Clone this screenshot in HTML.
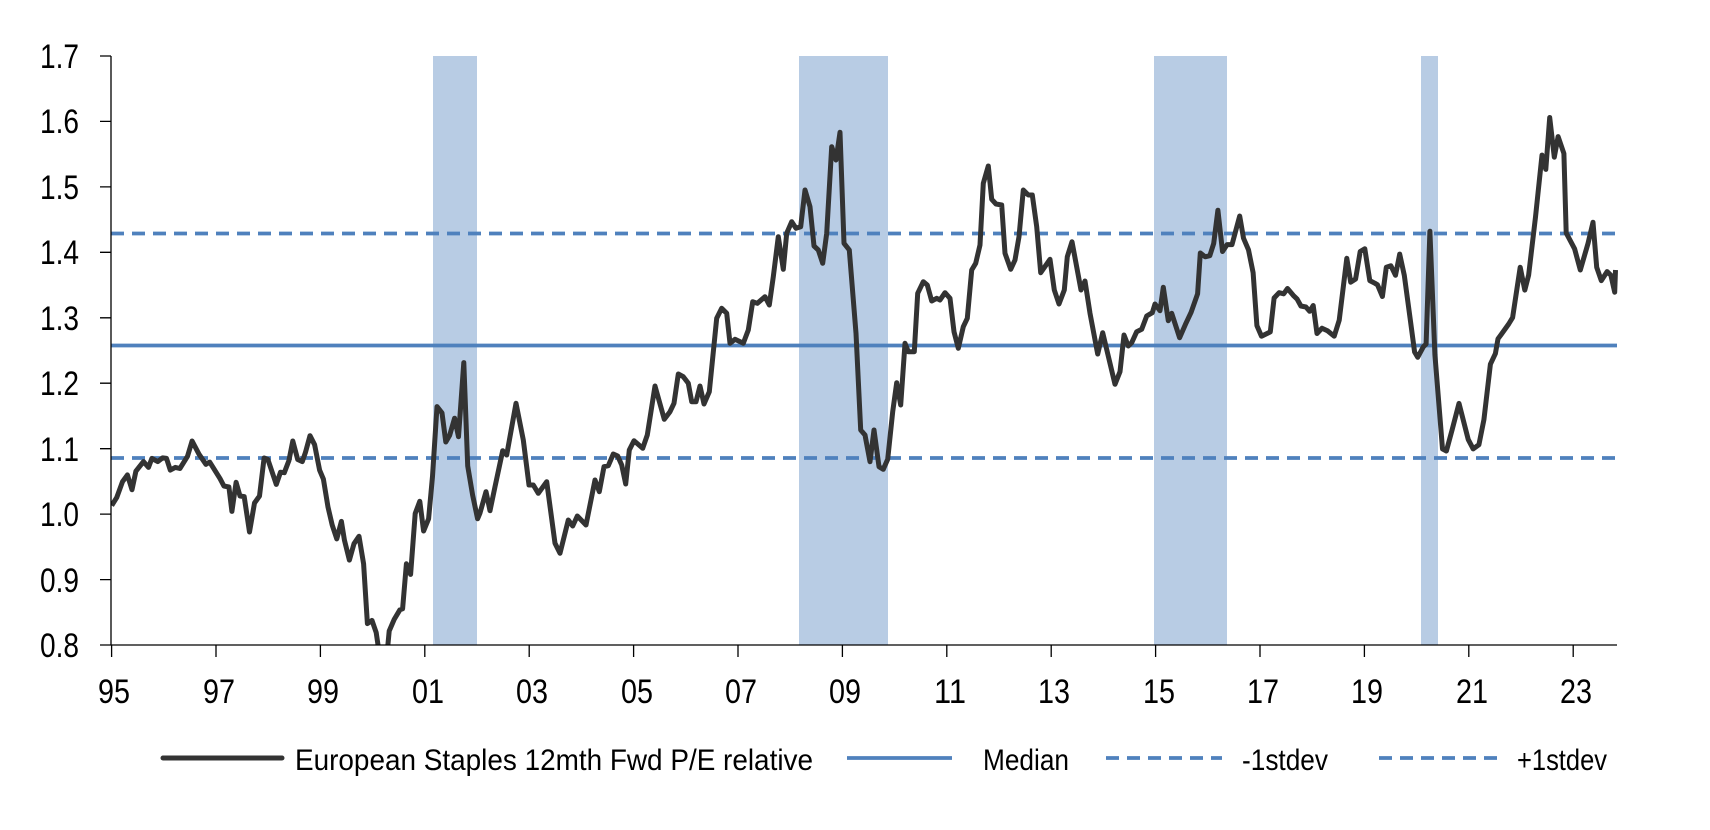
<!DOCTYPE html>
<html><head><meta charset="utf-8"><style>
html,body{margin:0;padding:0;background:#fff;}
svg{display:block;font-family:"Liberation Sans",Arial,sans-serif;}
</style></head><body>
<svg width="1710" height="830" viewBox="0 0 1710 830" xmlns="http://www.w3.org/2000/svg">
<defs><clipPath id="pa"><rect x="111" y="50" width="1510" height="595"/></clipPath></defs>
<g fill="#b8cce4">
<rect x="433" y="56" width="44" height="589"/>
<rect x="799" y="56" width="89" height="589"/>
<rect x="1154" y="56" width="73" height="589"/>
<rect x="1421" y="56" width="17" height="589"/>
</g>
<g stroke="#4f81bd" stroke-width="3.8" fill="none">
<line x1="111" y1="345.5" x2="1617" y2="345.5"/>
<line x1="111" y1="233.5" x2="1617" y2="233.5" stroke-dasharray="13,8"/>
<line x1="111" y1="458" x2="1617" y2="458" stroke-dasharray="13,8"/>
</g>
<g clip-path="url(#pa)">
<polyline fill="none" stroke="#333" stroke-width="5" stroke-linejoin="round" points="
111.7,505.6 116.7,497.6 122.5,481.7 127.4,474.9 132,489.7 135.9,471.2 143.5,461.6 148.5,467.4 151.9,458.4 157.7,461.6 162.6,457.9 166.5,458.4 170.3,470.1 175.3,467.4 179.9,468.5 187.5,456.3 192.1,441 199,454.2 205.9,464.3 209.7,462.1 220,478.6 223.9,486 228.9,487 231.9,511.4 236.1,482.3 240,496 244.2,496.6 249.5,532 254.5,503 259.5,496 264.1,458 267.9,459.5 276.3,484.4 280.5,472.2 284.3,472.7 288.9,460.6 292.8,441 297.7,459.5 302.3,461.6 305.4,452.6 310,435.7 314.6,444.7 319.6,470.1 323.4,479.1 328,507.1 332.2,525.1 336.8,538.9 341.4,521.4 344.4,540 349.4,560.1 354,543.7 359,536.3 363.6,563.8 367.4,623.6 372,620.4 376.2,632.6 378.9,651 381,665 386,665 389.2,631 394.2,619.4 399.9,609.8 402.6,608.8 406.4,563.8 410.6,574.4 415.2,513.5 419.8,501.3 423.6,531 428.6,518.8 432.5,476.4 437,406.6 442,412.9 445.8,442 449.7,435.2 454.6,418.2 458.5,436.7 463.8,362.6 467.7,465.9 472.6,495 477.6,518.8
480,513 486,491.7 490,510.7 495,486.7 502.7,450.7 506.7,455 516,403.3 523.3,440 529,485 533.3,485 538.3,493.3 546.7,481.7 555,543.3 560,553.3 568.3,520 572.7,526 577.3,516 586,525 595,480 599.3,491.7 604,466.7 608.3,465.7 613.3,454 617.7,456 621.7,465 625.7,484 629.3,450 634,440.7 642.7,448.3 647.3,435 655,386 664.3,419.3 670,411.7 674,403.3 678.3,374 683.3,376.7 688.3,383.3 691.7,401.7 696,401.7 700,386 704,404 709.3,391.7 716.7,318.3 721.7,308.3 726.7,313.3 730,343.3 735,339.3 743.3,343.3 748.3,330 752.7,301.7 757.3,303.3 765,296.7 769.3,305 773.3,276.7 778.3,236.7 783.3,269.3 786.7,233.3 791.7,221.7 796,228.3 800.7,226.7 805,190 810,206.7 814,246 818.3,250 822.7,263.3 826.7,233.3 831.7,146.7 836,160 840,132.3 844,243.3 849.3,250 856,333.3 860.7,430 865,435 870,461.7 874,430 879,466.7 883.3,469.3 887.7,459.3 892.7,411.7 896.7,382.7 900.7,405 905,343.3 908.3,351.7 914.3,351.7 917.7,293.3 923.3,281.7 927.3,285 931.7,301 936.7,298.3 940,300 945,292.7 950,298.3 954,331.7 958.3,348.3 963.3,326.7 967.3,318.3 971.7,270 975.7,263.3 980,245 983.3,183.3 988.3,166 991.7,199.3 996,204 1001.7,205 1005,253.3 1010.7,269.3 1015,260 1019,236.7 1023.3,190 1028.3,195 1032.3,195 1036.7,226.7 1040.7,272.7 1050,259.3 1054.3,290 1059,304 1064.3,290 1067.3,256.7 1072,241.7 1081,290 1085,281 1090,313.3 1097.7,354 1102.7,332.7 1115,384.3 1120,371.7 1124,335 1128.3,346 1131.7,342.7 1136.7,331.7 1141.7,329.3 1146.7,316 1152.3,312.7 1155,304 1160,310.7 1163.3,287.3 1168.3,320.7 1171.7,313.3 1179.6,337.7 1186.1,322.9 1191.1,312.3 1197.6,293.8 1200.3,253 1205.2,256.8 1209.8,255.7 1213.7,243.5 1217.9,210.2 1222.5,251.5 1227.1,244.6 1232,244.6 1239.7,216 1243.5,238.2 1248.5,249.9 1253.1,272.6 1256.9,325.6 1261.5,336.2 1270.3,331.9 1274.1,298 1279.1,292.7 1283.7,293.8 1287.5,288.5 1293.3,295.4 1297.1,299.1 1300.9,306 1305.9,307 1309.7,311.3 1313.2,305.5 1317,333.5 1322,328.2 1327.7,330.9 1334.2,336.2 1339.2,320.3 1346.8,258.3 1350.7,282.2 1355.6,279 1360.2,251.5 1364.8,248.8 1369.8,280.6 1374.8,283.2 1377.5,284.8 1382.4,296.5 1386.3,267.3 1390.9,265.8 1395.5,275.3 1399.7,254.1 1404.3,275.3 1410,317.6 1414.6,352 1417.7,357.3 1423.4,346.7 1426.1,344.1 1429.9,231.3 1434.9,354.7 1442.5,448.9 1446.4,451 1452.1,429.9 1459,403.4 1468.2,439.4 1473.2,448.9 1478.9,444.7 1483.9,419.8 1490.4,364.2 1495.4,353.6 1498,338.8 1501.1,334.6 1508.7,324 1512.6,317.6 1520.2,267.3 1524.8,290.1 1528.6,275.3 1535.5,217 1542,155.1 1545.8,169.4 1549.7,117.5 1554.3,157.2 1558.1,136.6 1563.9,153.5 1566.2,232.9 1574.6,248.8 1580.3,270 1588,243.5 1593,222.3 1596.7,267.3 1601.3,280.6 1607.1,271.6 1610.9,275.3 1614.7,292.2 1615.5,270"/>
</g>
<g stroke="#000" stroke-width="1.3" fill="none">
<line x1="111" y1="56" x2="111" y2="645"/>
<line x1="100" y1="645" x2="1617" y2="645"/>
<path d="M100 56H111M100 121.4H111M100 186.9H111M100 252.3H111M100 317.8H111M100 383.2H111M100 448.7H111M100 514.1H111M100 579.6H111"/>
<path d="M111.6 645V657M216 645V657M320.4 645V657M424.8 645V657M529.2 645V657M633.6 645V657M738 645V657M842.4 645V657M946.8 645V657M1051.2 645V657M1155.6 645V657M1260 645V657M1364.4 645V657M1468.8 645V657M1573.2 645V657"/>
</g>
<g font-size="34" fill="#000">
<text x="40" y="68" textLength="39" lengthAdjust="spacingAndGlyphs">1.7</text>
<text x="40" y="133" textLength="39" lengthAdjust="spacingAndGlyphs">1.6</text>
<text x="40" y="199" textLength="39" lengthAdjust="spacingAndGlyphs">1.5</text>
<text x="40" y="264" textLength="39" lengthAdjust="spacingAndGlyphs">1.4</text>
<text x="40" y="330" textLength="39" lengthAdjust="spacingAndGlyphs">1.3</text>
<text x="40" y="395" textLength="39" lengthAdjust="spacingAndGlyphs">1.2</text>
<text x="40" y="461" textLength="39" lengthAdjust="spacingAndGlyphs">1.1</text>
<text x="40" y="526" textLength="39" lengthAdjust="spacingAndGlyphs">1.0</text>
<text x="40" y="592" textLength="39" lengthAdjust="spacingAndGlyphs">0.9</text>
<text x="40" y="657" textLength="39" lengthAdjust="spacingAndGlyphs">0.8</text>
</g>
<g font-size="34" fill="#000">
<text x="98" y="703" textLength="32" lengthAdjust="spacingAndGlyphs">95</text>
<text x="203" y="703" textLength="32" lengthAdjust="spacingAndGlyphs">97</text>
<text x="307" y="703" textLength="32" lengthAdjust="spacingAndGlyphs">99</text>
<text x="412" y="703" textLength="32" lengthAdjust="spacingAndGlyphs">01</text>
<text x="516" y="703" textLength="32" lengthAdjust="spacingAndGlyphs">03</text>
<text x="621" y="703" textLength="32" lengthAdjust="spacingAndGlyphs">05</text>
<text x="725" y="703" textLength="32" lengthAdjust="spacingAndGlyphs">07</text>
<text x="829" y="703" textLength="32" lengthAdjust="spacingAndGlyphs">09</text>
<text x="934" y="703" textLength="32" lengthAdjust="spacingAndGlyphs">11</text>
<text x="1038" y="703" textLength="32" lengthAdjust="spacingAndGlyphs">13</text>
<text x="1143" y="703" textLength="32" lengthAdjust="spacingAndGlyphs">15</text>
<text x="1247" y="703" textLength="32" lengthAdjust="spacingAndGlyphs">17</text>
<text x="1351" y="703" textLength="32" lengthAdjust="spacingAndGlyphs">19</text>
<text x="1456" y="703" textLength="32" lengthAdjust="spacingAndGlyphs">21</text>
<text x="1560" y="703" textLength="32" lengthAdjust="spacingAndGlyphs">23</text>
</g>
<line x1="163" y1="758" x2="282" y2="758" stroke="#333" stroke-width="5" stroke-linecap="round"/>
<line x1="847" y1="758" x2="952" y2="758" stroke="#4f81bd" stroke-width="3.8"/>
<line x1="1106" y1="758" x2="1222" y2="758" stroke="#4f81bd" stroke-width="3.8" stroke-dasharray="13,8"/>
<line x1="1379" y1="758" x2="1497" y2="758" stroke="#4f81bd" stroke-width="3.8" stroke-dasharray="13,8"/>
<g font-size="30" fill="#000">
<text x="295" y="770" textLength="518" lengthAdjust="spacingAndGlyphs">European Staples 12mth Fwd P/E relative</text>
<text x="983" y="770" textLength="86" lengthAdjust="spacingAndGlyphs">Median</text>
<text x="1242" y="770" textLength="86" lengthAdjust="spacingAndGlyphs">-1stdev</text>
<text x="1517" y="770" textLength="90" lengthAdjust="spacingAndGlyphs">+1stdev</text>
</g>
</svg>
</body></html>
